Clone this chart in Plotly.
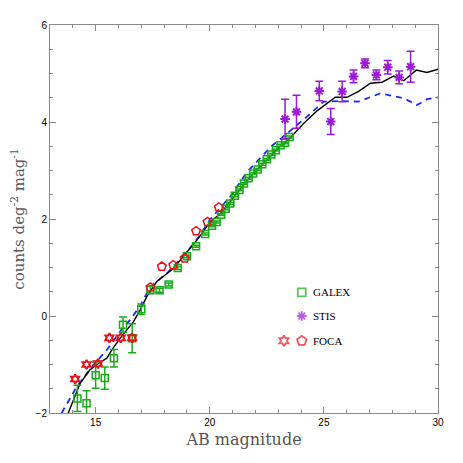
import plotly.graph_objects as go

# ---------------- data ----------------
galex_x = [14.2, 14.6, 15.0, 15.4, 15.8, 16.2, 16.6, 17.0, 17.4, 17.8, 18.2, 18.6, 19.0, 19.4, 19.8,
           20.1, 20.3, 20.5, 20.7, 20.9, 21.1, 21.3, 21.5, 21.7, 21.9, 22.1, 22.3, 22.5, 22.7, 22.9,
           23.1, 23.3, 23.5]
galex_y = [-1.70, -1.80, -1.22, -1.28, -0.87, -0.18, -0.46, 0.14, 0.54, 0.53, 0.65, 0.99, 1.23, 1.44, 1.69,
           1.86, 1.94, 2.09, 2.21, 2.32, 2.48, 2.60, 2.73, 2.84, 2.94, 3.02, 3.13, 3.23, 3.33, 3.42,
           3.52, 3.57, 3.69]
galex_err = [0.27, 0.26, 0.27, 0.23, 0.18, 0.16, 0.30, 0.11, 0.08, 0.04, 0.03, 0.03, 0.03, 0.02, 0.02,
             0.02, 0.02, 0.02, 0.02, 0.02, 0.02, 0.02, 0.02, 0.02, 0.02, 0.02, 0.02, 0.02, 0.02, 0.02,
             0.02, 0.02, 0.02]

stis_x = [23.3, 23.8, 24.8, 25.3, 25.8, 26.3, 26.8, 27.3, 27.8, 28.3, 28.8]
stis_y = [4.06, 4.21, 4.64, 4.01, 4.63, 4.94, 5.21, 4.97, 5.13, 4.92, 5.14]
stis_err = [0.41, 0.34, 0.20, 0.27, 0.21, 0.13, 0.09, 0.10, 0.14, 0.13, 0.32]

foca_star_x = [14.1, 14.6, 15.1, 15.6, 16.1, 16.6]
foca_star_y = [-1.30, -1.00, -0.98, -0.45, -0.45, -0.45]
foca_pent_x = [17.4, 17.9, 18.4, 18.9, 19.4, 19.9, 20.4]
foca_pent_y = [0.59, 1.02, 1.05, 1.19, 1.75, 1.94, 2.24]

model_solid_x = [13.80, 14.32, 14.75, 15.12, 15.49, 15.71, 16.07, 16.36, 16.65, 16.95, 17.24, 17.68,
                 18.0, 18.41, 19.0, 19.5, 20.0, 20.5, 21.0, 21.5, 22.0, 22.5, 23.0, 23.5, 24.11,
                 24.70, 25.5, 26.01, 26.52, 27.04, 27.55, 28.06, 28.50, 29.05, 29.52, 30.03]
model_solid_y = [-2.0, -1.39, -1.11, -0.98, -0.87, -0.70, -0.46, -0.29, -0.12, 0.12, 0.40, 0.71,
                 0.83, 0.98, 1.32, 1.60, 1.93, 2.13, 2.42, 2.72, 2.98, 3.22, 3.46, 3.66, 3.97,
                 4.23, 4.51, 4.51, 4.63, 4.80, 4.82, 4.95, 4.85, 5.07, 5.02, 5.09]

model_dash_x = [13.51, 14.17, 14.90, 15.49, 16.07, 16.51, 16.95, 17.39, 18.12, 19.0, 19.5, 20.0,
                20.5, 21.0, 21.6, 22.2, 22.7, 23.3, 23.53, 24.26, 24.99, 25.72, 26.52, 27.47,
                28.5, 29.08, 29.52, 30.03]
model_dash_y = [-2.0, -1.46, -1.01, -0.70, -0.32, -0.08, 0.21, 0.60, 0.88, 1.32, 1.62, 1.98,
                2.25, 2.52, 2.95, 3.25, 3.50, 3.73, 3.82, 4.11, 4.42, 4.43, 4.42, 4.59,
                4.49, 4.35, 4.47, 4.51]

legend_labels = ["GALEX", "STIS", "FOCA"]

# ---------------- styles ----------------
GREEN = "#1aaa1a"
PURPLE = "#9a1ad6"
RED = "#e8101a"
BLUE = "#1a2cf0"
AXIS = "#8a8a8a"

fig = go.Figure()

fig.add_trace(go.Scatter(x=model_dash_x, y=model_dash_y, mode="lines",
                         line=dict(color=BLUE, width=1.8, dash="6px,5px"), showlegend=False))
fig.add_trace(go.Scatter(x=model_solid_x, y=model_solid_y, mode="lines",
                         line=dict(color="black", width=1.4), showlegend=False))

fig.add_trace(go.Scatter(x=galex_x, y=galex_y, mode="markers",
                         marker=dict(symbol="square-open", size=7, color=GREEN, line=dict(width=1.5, color=GREEN)),
                         error_y=dict(type="data", array=galex_err, color=GREEN, thickness=1.5, width=4),
                         showlegend=False))
fig.add_trace(go.Scatter(x=stis_x, y=stis_y, mode="markers",
                         marker=dict(symbol="asterisk-open", size=8, color=PURPLE, line=dict(width=2, color=PURPLE)),
                         error_y=dict(type="data", array=stis_err, color=PURPLE, thickness=1.5, width=4),
                         showlegend=False))
fig.add_trace(go.Scatter(x=foca_star_x, y=foca_star_y, mode="markers",
                         marker=dict(symbol="hexagram-open", size=7, color=RED, line=dict(width=2, color=RED)),
                         showlegend=False))
fig.add_trace(go.Scatter(x=foca_pent_x, y=foca_pent_y, mode="markers",
                         marker=dict(symbol="pentagon-open", size=9, color=RED, line=dict(width=1.5, color=RED)),
                         showlegend=False))

# ---- hand-drawn legend key on a hidden overlay axis (0..1 of plot area) ----
key_x = [0.649, 0.649, 0.649, 0.603]
key_y = [0.311, 0.250, 0.186, 0.186]
key_sym = ["square-open", "asterisk-open", "pentagon-open", "hexagram-open"]
key_col = [GREEN, PURPLE, RED, RED]
key_size = [8, 8, 10, 8]
fig.add_trace(go.Scatter(x=key_x, y=key_y, mode="markers", xaxis="x2", yaxis="y2",
                         marker=dict(symbol=key_sym, size=key_size, color=key_col,
                                     line=dict(width=1.8, color=key_col)),
                         showlegend=False, hoverinfo="skip"))
for lab, yy in zip(legend_labels, key_y[:3]):
    fig.add_annotation(text=lab, x=0.673, y=yy, xref="paper", yref="paper",
                       xanchor="left", yanchor="middle", showarrow=False,
                       font=dict(family="Liberation Serif", size=11, color="black"))

axis_common = dict(showline=True, linecolor=AXIS, linewidth=1, mirror="ticks",
                   ticks="inside", tickcolor=AXIS, ticklen=6, tickwidth=1,
                   showgrid=False, zeroline=False, automargin=False,
                   tickfont=dict(family="Liberation Sans", size=10, color="black"))

# page body keeps its default 8px margin, so the figure is 447 px and margins are offset
fig.update_layout(
    width=447, height=447,
    margin=dict(l=42, r=17, t=17, b=42),
    paper_bgcolor="white", plot_bgcolor="white",
    showlegend=False,
    xaxis=dict(range=[13, 30], dtick=5, tick0=0,
               minor=dict(dtick=1, tick0=0, ticks="inside", ticklen=3, tickcolor=AXIS),
               title=dict(text="AB magnitude", standoff=6,
                          font=dict(family="DejaVu Serif", size=16, color="#555555")),
               **axis_common),
    yaxis=dict(range=[-2, 6], dtick=2, tick0=0,
               minor=dict(dtick=0.5, tick0=0, ticks="inside", ticklen=3, tickcolor=AXIS),
               title=dict(text="counts deg<sup>-2</sup> mag<sup>-1</sup>", standoff=10,
                          font=dict(family="DejaVu Serif", size=15, color="#555555")),
               **axis_common),
    xaxis2=dict(overlaying="x", range=[0, 1], visible=False),
    yaxis2=dict(overlaying="y", range=[0, 1], visible=False),
)

fig.write_html("out.html")
